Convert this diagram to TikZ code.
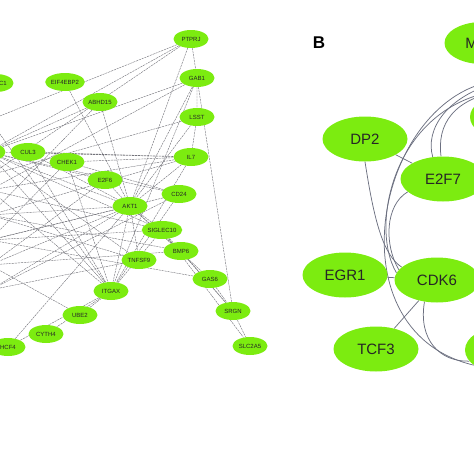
\documentclass[tikz,border=0pt]{standalone}
\usepackage{fontspec}
\setmainfont{Liberation Sans}
\usetikzlibrary{shapes.geometric, backgrounds}
\definecolor{nodegreen}{RGB}{124,236,16}
\definecolor{edgegray}{RGB}{115,115,122}
\definecolor{linkgray}{RGB}{108,112,128}
\tikzset{
    gnode/.style={
        ellipse,
        fill=nodegreen,
        minimum width=35pt,
        minimum height=18pt,
        inner sep=0pt,
        text=black!85,
        font=\fontsize{6}{7}\selectfont
    },
    bignode/.style={
        ellipse,
        fill=nodegreen,
        minimum width=85pt,
        minimum height=45pt,
        inner sep=0pt,
        text=black!85,
        font=\fontsize{15}{18}\selectfont
    },
    edge/.style={
        draw=edgegray,
        dash pattern=on 2.2pt off 0.8pt,
        line width=0.42pt
    },
    link/.style={
        draw=linkgray,
        line width=0.75pt
    },
    panel/.style={
        font=\fontsize{17}{20}\selectfont\bfseries
    }
}

\begin{document}
\begin{tikzpicture}[x=1pt, y=-1pt]

    \useasboundingbox (0,0) rectangle (474,474);

    % Panel A nodes
    \node[gnode] (ptprj) at (191,39) {PTPRJ};
    \node[gnode] (gab1) at (197,78) {GAB1};
    \node[gnode] (lsst) at (197,117) {LSST};
    \node[gnode] (il7) at (191,157) {IL7};
    \node[gnode] (cd24) at (179,194) {CD24};
    \node[gnode] (siglec) at (162,230) {SIGLEC10};
    \node[gnode] (bmp6) at (181,251) {BMP6};
    \node[gnode] (gas6) at (210,279) {GAS6};
    \node[gnode] (srgn) at (233,311) {SRGN};
    \node[gnode] (slc2a5) at (250,346) {SLC2A5};
    \node[gnode] (tnfsf9) at (139,260) {TNFSF9};
    \node[gnode] (itgax) at (111,291) {ITGAX};
    \node[gnode] (ube2) at (80,315) {UBE2};
    \node[gnode] (cyth4) at (46,334) {CYTH4};
    \node[gnode] (hcf4) at (8,347) {HCF4};
    \node[gnode] (akt1) at (130,206) {AKT1};
    \node[gnode] (e2f6) at (105,180) {E2F6};
    \node[gnode] (chek1) at (67,162) {CHEK1};
    \node[gnode] (cul3) at (28,152) {CUL3};
    \node[gnode] (eif) at (65,82) {EIF4EBP2};
    \node[gnode] (abhd15) at (100,102) {ABHD15};
    \node[gnode] (l1) at (-12,152) {};
    \node[gnode, label={[xshift=7pt, font=\fontsize{6}{7}\selectfont, text=black!85]center:C1}] (c1) at (-4,83) {};

    % ends of edges outside the frame
    \coordinate (h1) at (-10,120);
    \coordinate (h2) at (-10,190);
    \coordinate (h3) at (-10,215);
    \coordinate (h4) at (-10,240);
    \coordinate (h5) at (-10,265);
    \coordinate (h6) at (-10,290);
    \coordinate (h7) at (-10,175);

    % Panel B
    \node[panel] (b) at (319,43) {B};
    \node[bignode, minimum width=75pt, minimum height=42pt] (myc) at (482,43) {MYC};
    \node[bignode] (dp2) at (365,139) {DP2};
    \node[bignode] (e2f7) at (443,179) {E2F7};
    \node[bignode] (egr1) at (345,275) {EGR1};
    \node[bignode] (cdk6) at (437,280) {CDK6};
    \node[bignode] (tcf3) at (376,349) {TCF3};
    \node[bignode, minimum width=58pt, minimum height=40pt] (r1) at (499,117) {};
    \node[bignode, minimum width=70pt] (r2) at (500,350) {};
    \coordinate (m1) at (505,80);
    \coordinate (m2) at (505,90);

    % Edges
    \begin{scope}[on background layer]
        \draw[edge] (ptprj) -- (l1) (ptprj) -- (h1) (ptprj) -- (akt1) (ptprj) -- (srgn) (ptprj) -- (gab1) (ptprj) -- (h7);
        \draw[edge] (gab1) -- (l1) (gab1) -- (lsst) (gab1) -- (akt1) (gab1) -- (itgax) (gab1) -- (h2);
        \draw[edge] (lsst) -- (il7) (lsst) -- (h7) (lsst) -- (akt1);
        \draw[edge] (il7) -- (cul3) (il7) -- (chek1) (il7) -- (l1) (il7) -- (h2) (il7) -- (h3) (il7) -- (akt1) (il7) -- (itgax);
        \draw[edge] (abhd15) -- (l1) (abhd15) -- (akt1) (abhd15) -- (h3);
        \draw[edge] (eif) -- (akt1);
        \draw[edge] (cd24) -- (l1) (cd24) -- (akt1) (cd24) -- (h4) (cd24) -- (chek1) (cd24) -- (h6);
        \draw[edge] (akt1) -- (l1) (akt1) -- (cul3) (akt1) -- (h3) (akt1) -- (h4) (akt1) -- (h5) (akt1) -- (e2f6);
        \draw[edge] (akt1) -- (siglec) (akt1) -- (bmp6) (akt1) -- (tnfsf9) (akt1) -- (gas6) (akt1) -- (itgax) (akt1) -- (h6);
        \draw[edge] (itgax) -- (h1) (itgax) -- (h2) (itgax) -- (l1) (itgax) -- (cul3) (itgax) -- (ube2);
        \draw[edge] (itgax) -- (cyth4) (itgax) -- (hcf4) (itgax) -- (siglec) (itgax) -- (cd24);
        \draw[edge] (siglec) -- (srgn) (siglec) -- (h4) (siglec) -- (slc2a5) (siglec) -- (l1) (siglec) -- (h2);
        \draw[edge] (bmp6) -- (srgn) (bmp6) -- (h5) (bmp6) -- (h3);
        \draw[edge] (gas6) -- (srgn) (gas6) -- (h4);
        \draw[edge] (srgn) -- (slc2a5);
        \draw[edge] (tnfsf9) -- (h3) (tnfsf9) -- (l1) (tnfsf9) -- (h6);
        \draw[edge] (e2f6) -- (l1) (e2f6) -- (h5);
        \draw[edge] (chek1) -- (h4) (chek1) -- (itgax);
        \draw[edge] (ube2) -- (h5);
        \draw[edge] (hcf4) -- (akt1);

        \draw[link] (dp2) -- (e2f7);
        \draw[link] (egr1) -- (cdk6);
        \draw[link] (tcf3) -- (cdk6);
        \draw[link] (dp2.south) .. controls (374,220) and (383,255) .. (cdk6.160);
        \draw[link] (e2f7.200) .. controls (385,205) and (384,245) .. (cdk6.165);
        \draw[link] (m1) .. controls (380,85) and (325,330) .. (r2.210);
        \draw[link] (m2) .. controls (395,100) and (368,225) .. (cdk6.170);
        \draw[link] (cdk6.240) .. controls (418,340) and (440,362) .. (r2.200);
        \draw[link] (e2f7.115) .. controls (425,130) and (445,95) .. (m1);
        \draw[link] (e2f7.95) .. controls (437,125) and (452,98) .. (m2);
    \end{scope}

\end{tikzpicture}
\end{document}
